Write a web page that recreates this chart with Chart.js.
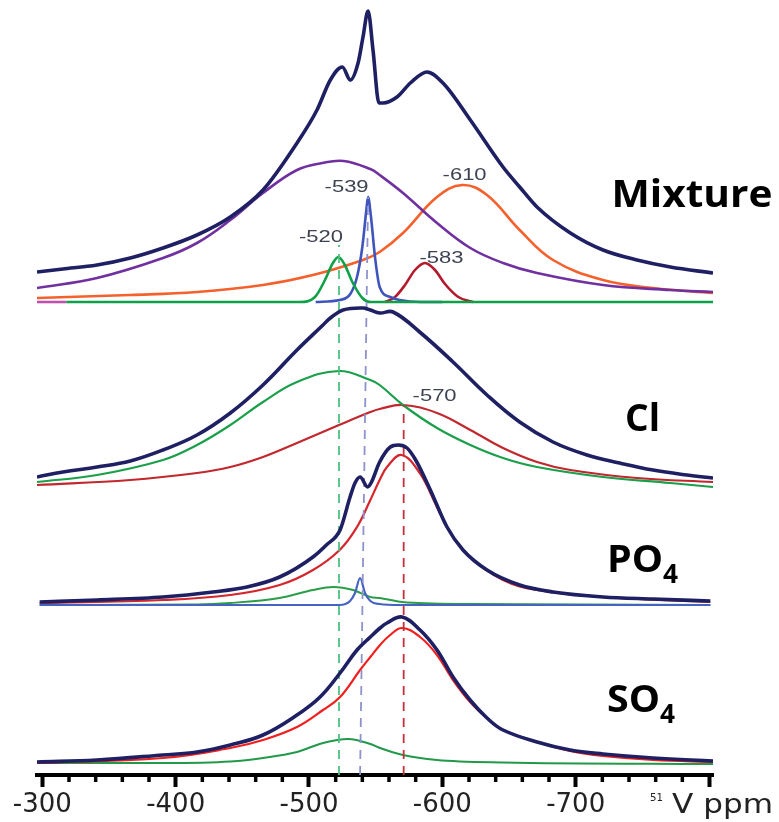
<!DOCTYPE html>
<html><head><meta charset="utf-8">
<script src="https://cdn.jsdelivr.net/npm/chart.js@4.4.1/dist/chart.umd.min.js"></script>
<style>html,body{margin:0;padding:0;background:#fff;}#wrap{width:779px;height:822px;position:relative;}</style>
</head><body><div id="wrap"><canvas id="c"></canvas></div>
<script>
// ---------- data (x: 51V chemical shift in ppm, y: intensity in arbitrary units) ----------
const xTickValues = [-300, -400, -500, -600, -700, -800];

// Mixture
const mixExpPpm = [-296,-315.5,-341,-366,-390.5,-416,-441,-465.5,-491,-506,-516,-525,-531,-536.8,-540.5,-544.3,-548,-552.5,-555.5,-566,-576,-588.5,-600.5,-621,-645.5,-658,-671,-696,-720.5,-746,-771,-803];
const mixExpInt = [30,33,37,44,54,67,85,112,159,192,222,235,222,239,265,291,252,199,199,205,219,230,219,182,135,115,95,69,52,42,35,29];
const mixPurplePpm = [-296,-341,-390.5,-416,-441,-465.5,-491,-510,-526,-546,-553,-570.5,-596,-621,-645.5,-671,-720.5,-771,-803];
const mixPurpleInt = [14,24,44,59,82,109,132,139,141,133,127,109,79,54,39,29,17,12,10];
const mixOrangePpm = [-296,-366,-416,-465.5,-503,-540.5,-553,-570.5,-596,-615,-633.5,-658,-683,-720.5,-758,-803];
const mixOrangeInt = [4,7,10,17,27,42,50,69,105,117,107,72,42,22,14,9];
const mixGreenPpm = [-318,-493,-504.5,-512,-517.5,-522,-526.5,-532.5,-540,-546,-803];
const mixGreenInt = [0,0,5,22,38,45,38,20,4,0,0];
const mixBluePpm = [-505,-523,-531,-536,-540,-543,-544.3,-546.5,-549.5,-553,-561,-568,-584,-600];
const mixBlueInt = [0,2,8,25,55,92,105,85,45,15,5,2,0,0];
const mixRedPpm = [-557,-564.5,-572,-579.5,-587,-594.5,-602,-612,-623];
const mixRedInt = [0,5,17,32,39,32,18,5,0];
const mixBasePpm = [-296,-318];
const mixBaseInt = [0,0];

// Cl
const clExpPpm = [-296,-315.5,-341,-366,-390.5,-416,-441,-465.5,-491,-510.5,-516,-525.5,-540.5,-546,-553,-563,-583,-608,-633.5,-658,-683,-708.5,-733,-758,-783.5,-803];
const clExpInt = [13,18,23,29,40,55,77,105,140,165,172,180,182,180,177,178,158,128,95,68,48,35,27,20,15,12];
const clGreenPpm = [-296,-341,-390.5,-416,-441,-465.5,-491,-522.5,-546,-553,-570.5,-596,-621,-645.5,-671,-720.5,-771,-803];
const clGreenInt = [8,15,30,45,65,88,108,119,110,105,85,62,45,32,23,13,7,3];
const clRedPpm = [-296,-366,-416,-441,-465.5,-491,-522.5,-546,-553,-570.5,-596,-621,-645.5,-671,-696,-746,-803];
const clRedInt = [5,10,17,23,33,47,65,78,81,85,77,60,42,28,20,12,8];

// PO4
const po4ExpPpm = [-298,-341,-390.5,-428,-453.5,-478,-503,-513,-523.3,-530.8,-534.5,-538.3,-544,-546.5,-553,-561,-567,-573.5,-580,-591,-603.5,-615.5,-633.5,-658,-683,-720.5,-758,-801];
const po4ExpInt = [3,5,8,13,18,28,48,60,75,108,122,128,118,122,143,158,160,157,145,115,78,55,35,20,13,8,6,4];
const po4RedPpm = [-298,-390.5,-441,-478,-503,-523,-536,-546,-553,-558.5,-569.5,-583,-596,-608,-621,-645.5,-671,-720.5,-801];
const po4RedInt = [2,5,10,20,35,55,78,105,125,138,150,132,98,68,48,25,15,8,3];
const po4GreenPpm = [-298,-416,-441,-478,-503,-518,-533,-546,-553,-570,-620,-801];
const po4GreenInt = [0,0.5,2,7,15,18,15,8,7,3,1,0];
const po4BluePpm = [-298,-523,-530.8,-534.5,-538.3,-542,-546,-553,-568,-801];
const po4BlueInt = [0,0,4,12,27,12,4,1,0,0];

// SO4
const so4ExpPpm = [-296,-341,-390.5,-416,-441,-465.5,-491,-508.3,-523.3,-536,-546,-553.3,-558.5,-569.8,-583.3,-596,-608,-620.8,-633.5,-645.5,-671,-695.8,-720.5,-758,-803];
const so4ExpInt = [3,5,10,13,20,30,50,68,92,115,128,137,142,148,135,115,88,65,47,35,23,15,11,7,4];
const so4RedPpm = [-296,-390.5,-441,-465.5,-491,-510.5,-523.3,-538.3,-546,-553.3,-560,-569.8,-583.3,-596,-608,-620.8,-633.5,-645.5,-671,-695.8,-720.5,-758,-803];
const so4RedInt = [2,7,17,25,38,55,68,95,108,120,129,137,128,110,85,63,47,35,23,14,9,5,3];
const so4GreenPpm = [-296,-390.5,-441,-465.5,-491,-510.5,-529.3,-546,-553.3,-570.5,-596,-645.5,-803];
const so4GreenInt = [2,2,3.5,7,13,22,26,21,17,10,5,2.5,1];

// reference (dashed) lines and peak annotations
const dashPpmBottom = [-522.5, -538.3, -571];
const dashPpmTop = [-522.5, -544.3, -571];
const dashTopValue = [530, 578, 370];
const peakLabels = ['-520', '-539', '-610', '-583', '-570'];
const peakLabelPpm = [-509, -528.2, -616.7, -599.4, -594.2];
const peakLabelValue = [539, 589, 601, 518, 380];

// vertical stacking offsets of the four spectra
const offMix = 473, offCl = 285, offPO4 = 170, offSO4 = 10;

// ---------- build ----------
function pts(xs, ys, off) { return xs.map((x, i) => ({ x: x, y: ys[i] + off })); }
function curve(xs, ys, off, color, w, order, narrow) {
  const d = { data: pts(xs, ys, off), borderColor: color, borderWidth: w, pointRadius: 0,
    fill: false, order: order };
  if (narrow) d.cubicInterpolationMode = 'monotone'; else d.tension = 0.4;
  return d;
}
const navy = '#1f2063';
const datasets = [
  curve(mixExpPpm, mixExpInt, offMix, navy, 3.6, 0, true),
  curve(clExpPpm, clExpInt, offCl, navy, 3.6, 0),
  curve(po4ExpPpm, po4ExpInt, offPO4, navy, 3.6, 0, true),
  curve(so4ExpPpm, so4ExpInt, offSO4, navy, 3.6, 0),
  curve(mixPurplePpm, mixPurpleInt, offMix, '#7030a0', 2.6, 3),
  curve(mixOrangePpm, mixOrangeInt, offMix, '#f5612c', 2.6, 3),
  curve(mixGreenPpm, mixGreenInt, offMix, '#0fa04a', 2.6, 2, true),
  curve(mixBluePpm, mixBlueInt, offMix, '#3f55bd', 2.6, 2, true),
  curve(mixRedPpm, mixRedInt, offMix, '#b31b2c', 2.6, 2, true),
  curve(mixBasePpm, mixBaseInt, offMix, '#c050b0', 2.6, 2, true),
  curve(clGreenPpm, clGreenInt, offCl, '#1a9f4b', 2.2, 3),
  curve(clRedPpm, clRedInt, offCl, '#c1272d', 2.2, 3),
  curve(po4RedPpm, po4RedInt, offPO4, '#d4262c', 2.2, 3),
  curve(po4GreenPpm, po4GreenInt, offPO4, '#2a9d48', 2.0, 3, true),
  curve(po4BluePpm, po4BlueInt, offPO4, '#4763c2', 2.2, 2, true),
  curve(so4RedPpm, so4RedInt, offSO4, '#f0201f', 2.2, 3),
  curve(so4GreenPpm, so4GreenInt, offSO4, '#22994a', 2.0, 3, true)
];
const dashColors = ['#4cc27e', '#8e92cc', '#c4303e'];
dashPpmBottom.forEach((xb, i) => {
  datasets.push({ data: [{ x: xb, y: 0 }, { x: dashPpmTop[i], y: dashTopValue[i] }],
    borderColor: dashColors[i], borderWidth: 1.8, borderDash: [9, 7], pointRadius: 0,
    tension: 0, fill: false, order: 1 });
});

function stretchText(ctx, text, font, left, baseline, width, color) {
  ctx.save();
  ctx.font = font; ctx.fillStyle = color; ctx.textBaseline = 'alphabetic'; ctx.textAlign = 'left';
  const w = ctx.measureText(text).width;
  ctx.translate(left, baseline); ctx.scale(width / w, 1);
  ctx.fillText(text, 0, 0);
  ctx.restore();
}

const decor = {
  id: 'decor',
  afterDraw(chart) {
    const ctx = chart.ctx, xs = chart.scales.x, ys = chart.scales.y;
    const bottom = chart.chartArea.bottom;
    // minor ticks
    ctx.save(); ctx.strokeStyle = '#000'; ctx.lineWidth = 3.5;
    for (let v = -320; v > -800; v -= 20) {
      if (v % 100 === 0) continue;
      const px = xs.getPixelForValue(v);
      ctx.beginPath(); ctx.moveTo(px, bottom); ctx.lineTo(px, bottom + 7); ctx.stroke();
    }
    ctx.restore();
    // peak position labels
    peakLabels.forEach((t, i) => {
      const cx = xs.getPixelForValue(peakLabelPpm[i]);
      const cy = ys.getPixelForValue(peakLabelValue[i]);
      stretchText(ctx, t, '16px "Liberation Sans"', cx - 22, cy + 6, 44, '#3d4352');
    });
    // sample names
    const big = 'bold 37px "Open Sans"';
    stretchText(ctx, 'Mixture', big, 611.5, 206.5, 161, '#000');
    stretchText(ctx, 'Cl', big, 625, 431, 35, '#000');
    stretchText(ctx, 'PO', big, 607, 571.5, 56, '#000');
    stretchText(ctx, '4', 'bold 27px "Open Sans"', 663, 583, 15, '#000');
    stretchText(ctx, 'SO', big, 607, 711.5, 53, '#000');
    stretchText(ctx, '4', 'bold 27px "Open Sans"', 660, 723, 15, '#000');
    // axis unit
    stretchText(ctx, '51', '10px "DejaVu Sans"', 650, 800.5, 13, '#222');
    stretchText(ctx, 'V ppm', '27px "DejaVu Sans"', 672, 813, 101, '#222');
  }
};

new Chart(document.getElementById('c'), {
  type: 'line',
  data: { datasets: datasets },
  options: {
    responsive: true, maintainAspectRatio: false, animation: false, devicePixelRatio: 1,
    layout: { padding: { left: 37, right: 66, top: 0, bottom: 0 } },
    plugins: { legend: { display: false }, tooltip: { enabled: false } },
    scales: {
      x: {
        type: 'linear', reverse: true, min: -803, max: -296,
        afterFit: (s) => { s.height = 47; },
        afterBuildTicks: (s) => { s.ticks = xTickValues.map(v => ({ value: v })); },
        ticks: {
          includeBounds: false, autoSkip: false, maxRotation: 0, padding: 3,
          color: '#222', font: { family: 'DejaVu Sans', size: 26 },
          callback: (v) => (v === -800 ? '' : String(v))
        },
        grid: { display: true, drawOnChartArea: false, drawTicks: true, tickLength: 12, tickWidth: 4, tickColor: '#000' },
        border: { display: true, color: '#000', width: 4 }
      },
      y: { type: 'linear', display: false, min: 0, max: 775 }
    }
  },
  plugins: [decor]
});
</script></body></html>
